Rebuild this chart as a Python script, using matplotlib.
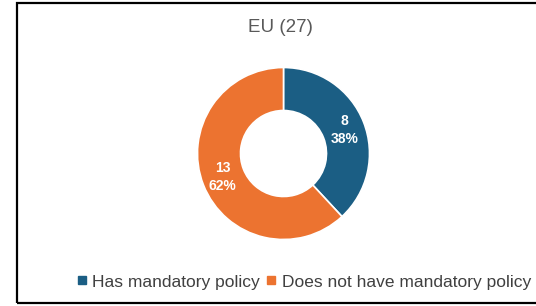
import matplotlib
matplotlib.use("Agg")
import matplotlib.pyplot as plt
from matplotlib.patches import Rectangle
from matplotlib.lines import Line2D
import numpy as np

plt.rcParams['font.family'] = ['Liberation Sans', 'DejaVu Sans']

title = "EU (27)"
categories = ["Has mandatory policy", "Does not have mandatory policy"]
values = [8, 13]
percent_labels = ["38%", "62%"]
colors = ["#1B5E84", "#EC7330"]

W, H = 536, 306
fig = plt.figure(figsize=(W / 100, H / 100), dpi=100)
fig.patch.set_facecolor("white")

# frame
fig.patches.append(Rectangle((17 / W, 3 / H), 1.2, (300 / H), transform=fig.transFigure,
                             fill=False, edgecolor="black", linewidth=1.6))

cx, cy, r = 283.5, H - 153.5, 86
ax = fig.add_axes([(cx - r) / W, (cy - r) / H, 2 * r / W, 2 * r / H])
wedges, _ = ax.pie(values, colors=colors, startangle=90, counterclock=False,
                   radius=1.0, wedgeprops=dict(width=0.5, edgecolor="white", linewidth=1.2))
ax.set_xlim(-1, 1)
ax.set_ylim(-1, 1)
ax.set_aspect("equal")
ax.axis("off")

total = sum(values)
start = 90.0
for v, p in zip(values, percent_labels):
    span = v / total * 360
    mid = np.deg2rad(start - span / 2)
    start -= span
    rr = 0.76
    ax.text(rr * np.cos(mid), rr * np.sin(mid), f"{v}\n{p}", ha="center", va="center",
            color="white", fontsize=10, fontweight="bold", linespacing=1.35)

fig.text(280 / W, 1 - 27 / H, title, ha="center", va="center", fontsize=13.5, color="#595959")

handles = [Line2D([0], [0], marker="s", linestyle="none", markersize=5.5,
                  markerfacecolor=c, markeredgecolor=c) for c in colors]
fig.legend(handles, categories, loc="center", bbox_to_anchor=(302 / W, 1 - 282 / H),
           ncol=2, frameon=False, fontsize=12.5, handletextpad=0.1, columnspacing=0.15,
           handlelength=1.0, labelcolor="#404040", borderpad=0, borderaxespad=0)

fig.savefig("out.png", dpi=100, facecolor="white")
